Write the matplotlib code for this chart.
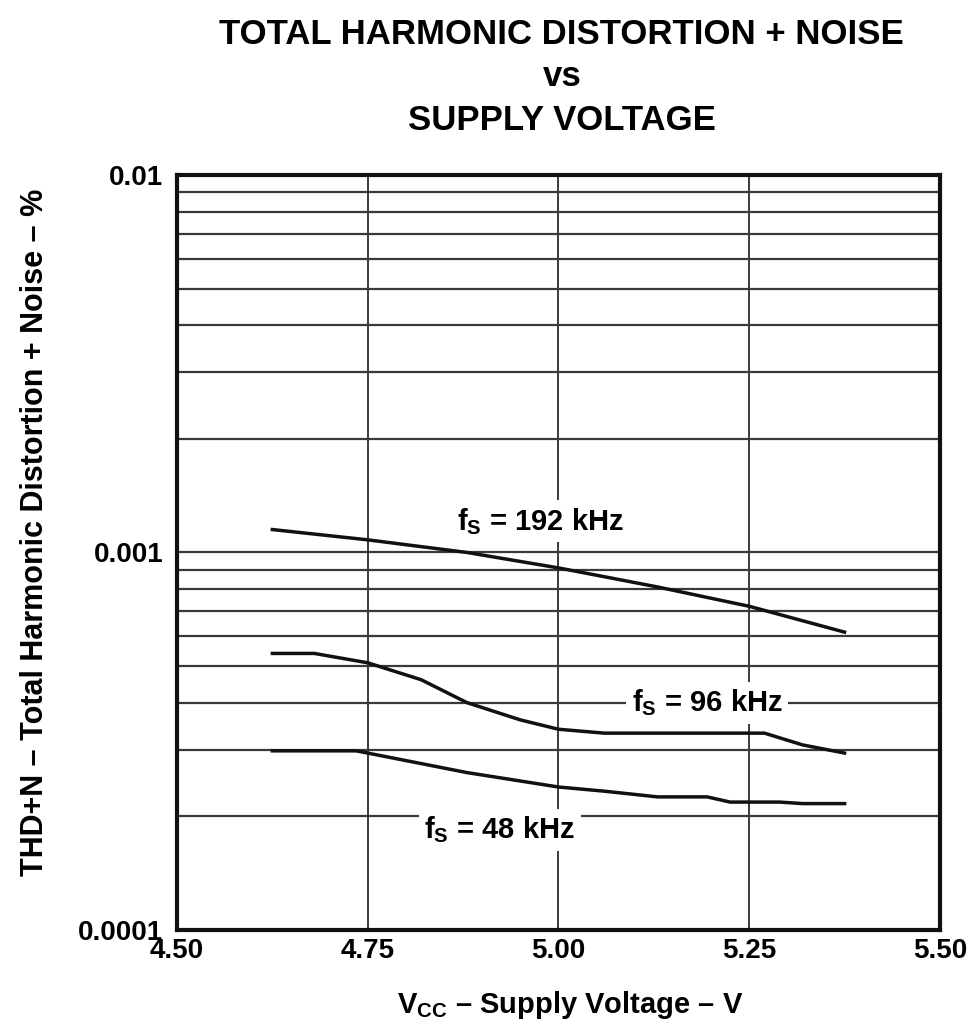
import matplotlib.pyplot as plt
import numpy as np

# values (supply voltage in V, THD+N in %)
vcc_192 = [4.625, 4.75, 4.88, 5.00, 5.13, 5.25, 5.375]
thd_192 = [0.00115, 0.00108, 0.00100, 0.00091, 0.00081, 0.00072, 0.000615]

vcc_96 = [4.625, 4.68, 4.75, 4.82, 4.88, 4.95, 5.00, 5.06, 5.15, 5.27, 5.32, 5.375]
thd_96 = [0.00054, 0.00054, 0.00051, 0.00046, 0.00040, 0.00036, 0.00034, 0.000332,
          0.000332, 0.000332, 0.000309, 0.000294]

vcc_48 = [4.625, 4.735, 4.75, 4.88, 5.00, 5.06, 5.13, 5.195, 5.225, 5.29, 5.32, 5.375]
thd_48 = [0.000298, 0.000298, 0.000294, 0.000261, 0.000239, 0.000233, 0.000225,
          0.000225, 0.000218, 0.000218, 0.000216, 0.000216]

labels = [r'f$_{\rm S}$ = 192 kHz', r'f$_{\rm S}$ = 96 kHz', r'f$_{\rm S}$ = 48 kHz']
label_pos = [(4.976, 0.00121), (5.195, 0.000399), (4.923, 0.000184)]

x_ticks = [4.50, 4.75, 5.00, 5.25, 5.50]
y_ticks = [0.0001, 0.001, 0.01]

plt.rcParams['font.family'] = ['Liberation Sans', 'DejaVu Sans']
plt.rcParams['mathtext.fontset'] = 'custom'
plt.rcParams['mathtext.rm'] = 'Liberation Sans:bold'
plt.rcParams['mathtext.it'] = 'Liberation Sans:bold'
plt.rcParams['mathtext.bf'] = 'Liberation Sans:bold'

fig = plt.figure(figsize=(9.67, 10.24), dpi=100)
ax = fig.add_axes([0.183, 0.092, 0.789, 0.737])

ax.set_yscale('log')
ax.set_xlim(4.5, 5.5)
ax.set_ylim(0.0001, 0.01)

grid_col = '#3a3a3a'
ax.set_axisbelow(True)
ax.yaxis.grid(True, which='both', color=grid_col, lw=1.6)
for xv in x_ticks[1:-1]:
    ax.axvline(xv, color=grid_col, lw=1.4, zorder=0.5)

for v, t in [(vcc_192, thd_192), (vcc_96, thd_96), (vcc_48, thd_48)]:
    ax.plot(v, t, color='#111111', lw=2.5, zorder=3)

for txt, (xv, yv) in zip(labels, label_pos):
    ax.text(xv, yv, txt, ha='center', va='center', fontsize=21, fontweight='bold',
            bbox=dict(facecolor='white', edgecolor='none', pad=4), zorder=4)

for s in ax.spines.values():
    s.set_linewidth(3)
    s.set_color('#111111')

ax.set_xticks(x_ticks)
ax.set_xticklabels(['%.2f' % v for v in x_ticks], fontsize=20, fontweight='bold')
ax.set_yticks(y_ticks)
ax.set_yticklabels(['0.0001', '0.001', '0.01'], fontsize=20, fontweight='bold')
ax.tick_params(which='both', length=0)
ax.tick_params(axis='x', pad=6)
ax.tick_params(axis='y', pad=10)
ax.yaxis.set_minor_formatter(plt.NullFormatter())

ax.set_xlabel(r'V$_{\rm CC}$ – Supply Voltage – V', fontsize=21, fontweight='bold',
              va='center')
ax.set_ylabel('THD+N – Total Harmonic Distortion + Noise – %', fontsize=22,
              fontweight='bold', va='center')
ax.xaxis.set_label_coords(0.515, -0.099)
ax.yaxis.set_label_coords(-0.186, 0.527)

fig.text(0.581, 0.966, 'TOTAL HARMONIC DISTORTION + NOISE', ha='center', va='center',
         fontsize=25, fontweight='bold')
fig.text(0.581, 0.925, 'vs', ha='center', va='center', fontsize=25, fontweight='bold')
fig.text(0.581, 0.882, 'SUPPLY VOLTAGE', ha='center', va='center', fontsize=25, fontweight='bold')

fig.savefig('out.png', dpi=100)
